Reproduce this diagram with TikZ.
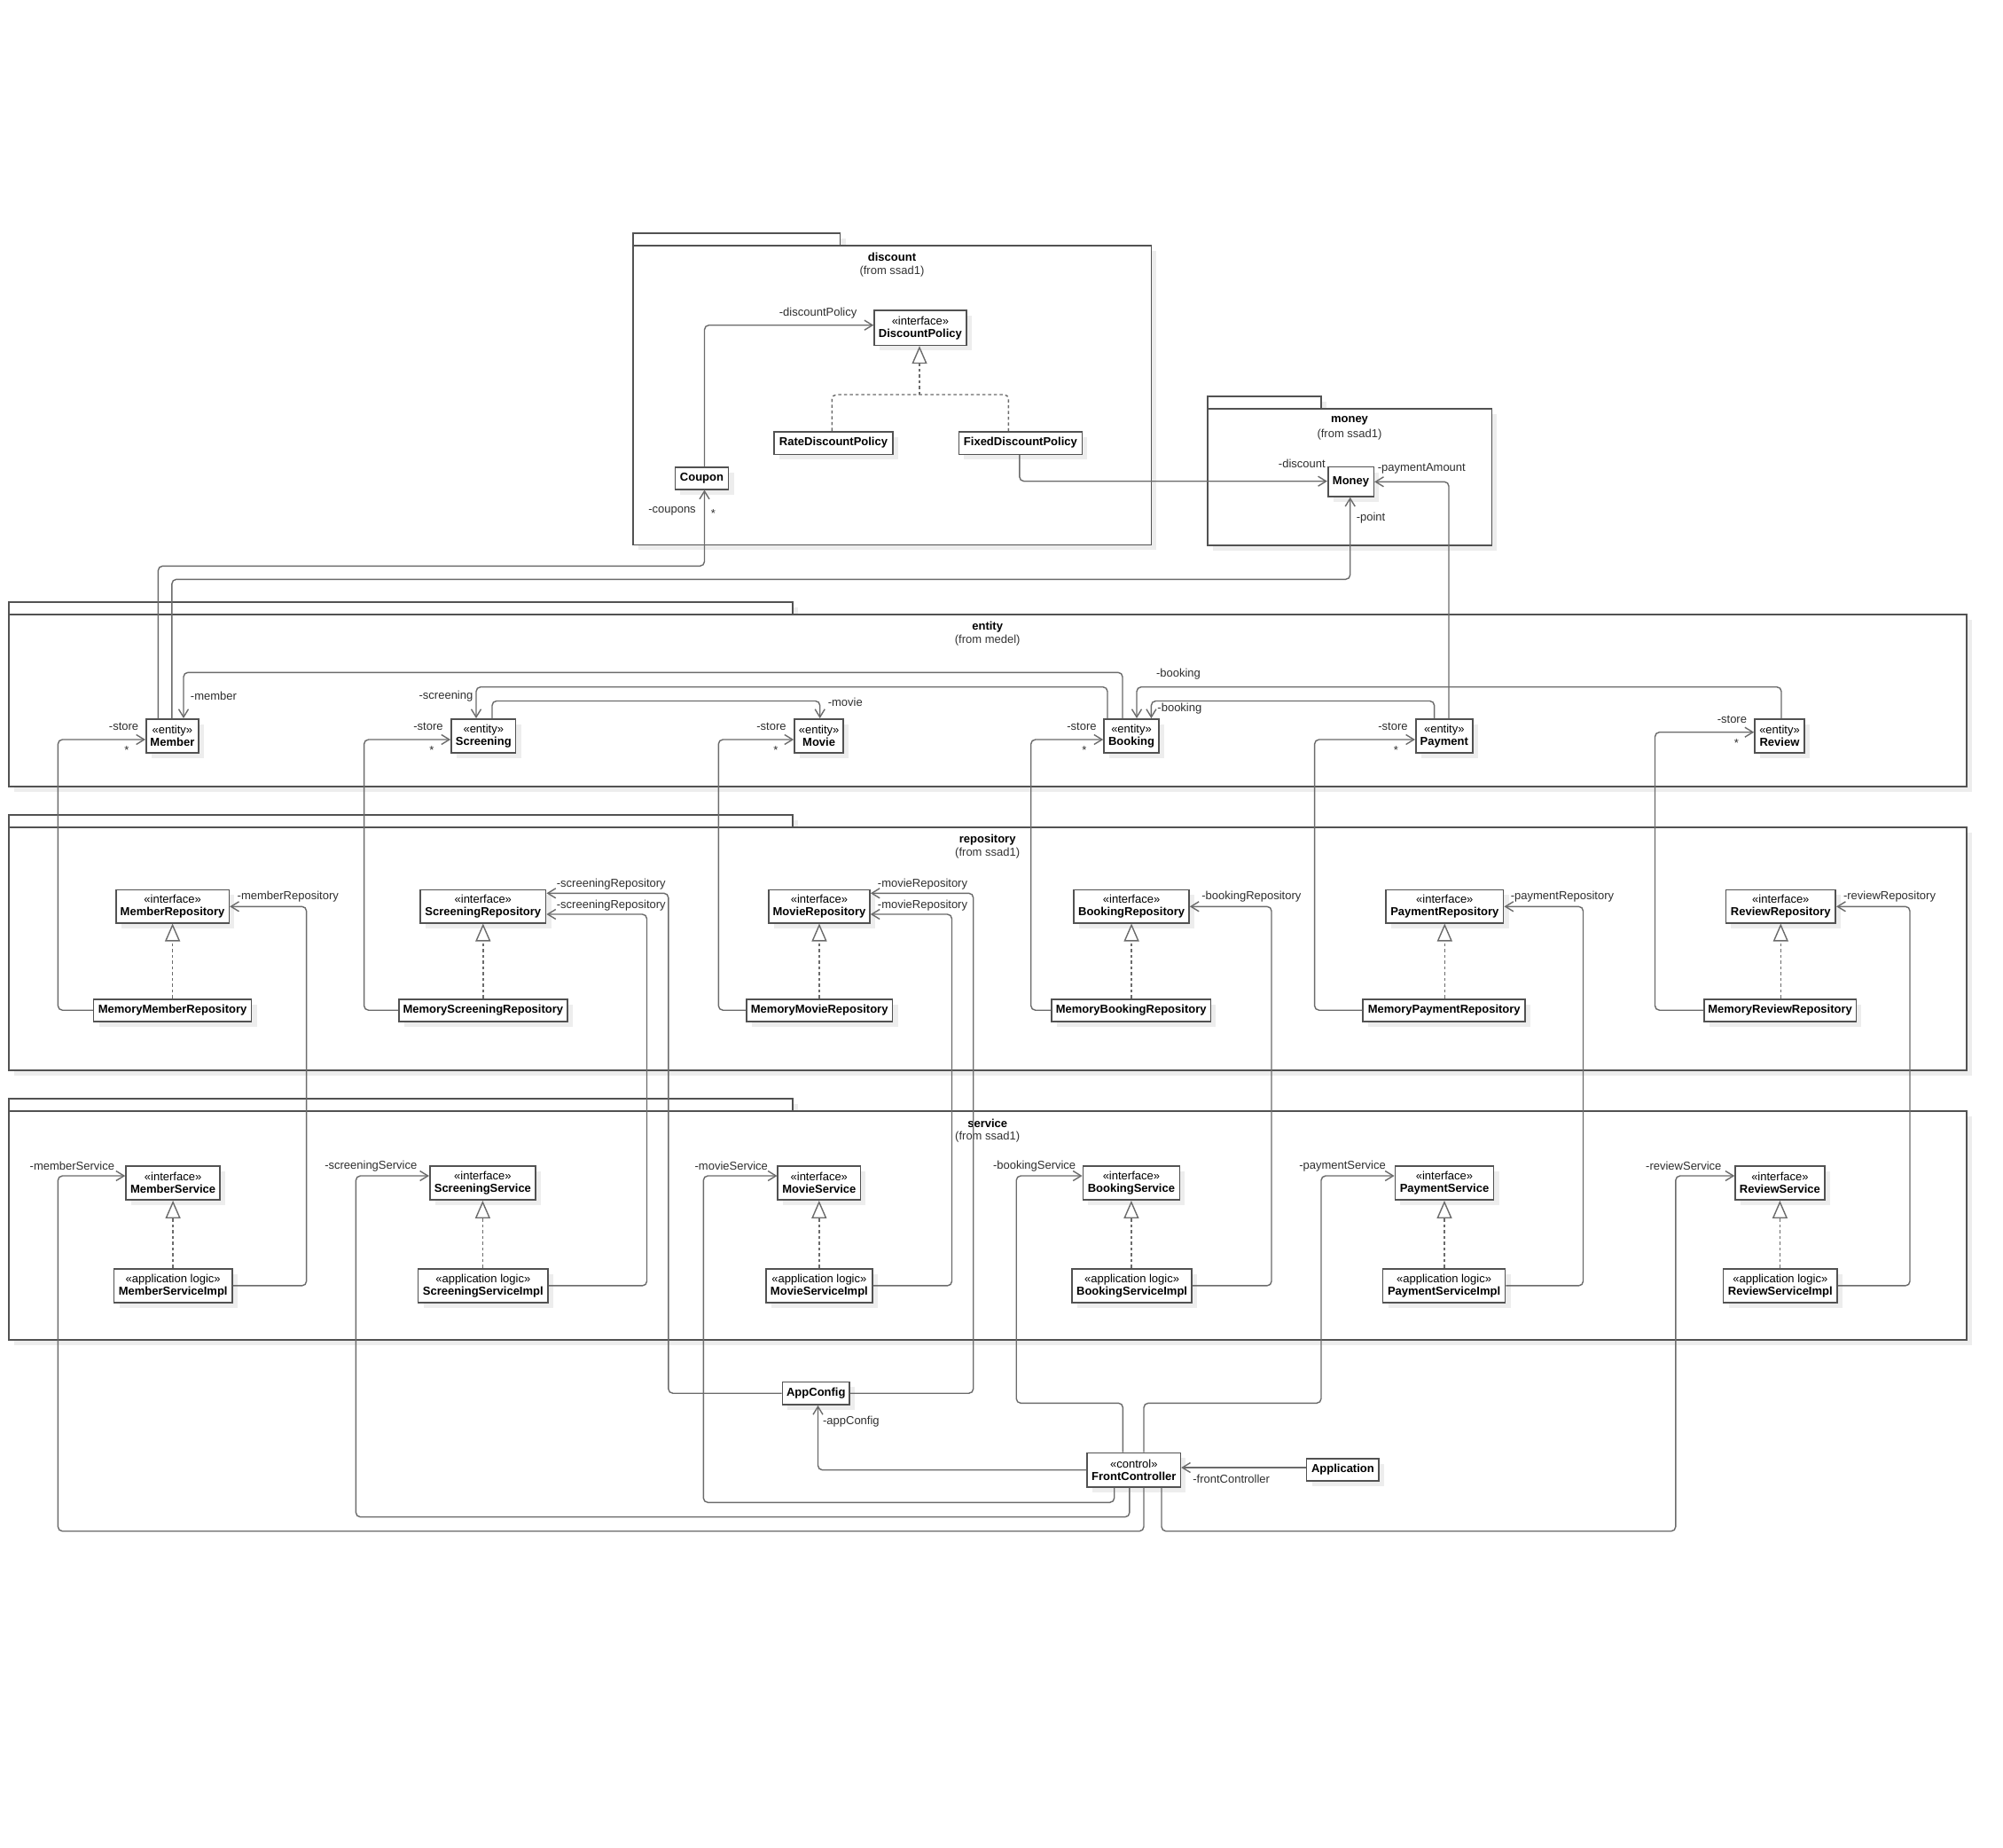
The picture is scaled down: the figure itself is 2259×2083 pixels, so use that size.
\documentclass[tikz,border=0pt]{standalone}
\usepackage{fontspec}
\setmainfont{Liberation Sans}
\usetikzlibrary{arrows.meta,shadows}

\tikzset{
  box shadow/.style={general shadow={fill=black!7, draw=none, shadow xshift=6pt, shadow yshift=-6pt}},
  umlclass/.style={draw=black!68, line width=1.6pt, fill=white, inner sep=0pt,
    align=center, font=\fontsize{13}{14}\selectfont, box shadow},
  pkgframe/.style={draw=black!68, line width=1.6pt, fill=white, box shadow},
  pkgname/.style={font=\fontsize{13}{15}\selectfont\bfseries, inner sep=0pt},
  pkgfrom/.style={font=\fontsize{13}{15}\selectfont, text=black!80, inner sep=0pt},
  assoc/.style={draw=black!58, line width=1.4pt, rounded corners=5pt,
    -{Straight Barb[length=9pt,width=11pt]}},
  realize/.style={draw=black!58, line width=1.4pt, rounded corners=5pt, dash pattern=on 3.5pt off 3pt},
  realtip/.style={realize, -{Triangle[length=20pt,width=17pt,fill=white]}},
  role/.style={font=\fontsize{13}{14}\selectfont, text=black!82, inner sep=0pt},
}

\begin{document}
\begin{tikzpicture}[x=1pt,y=-1pt]
\useasboundingbox (0,0) rectangle (2259,2083);

% ---------- packages ----------
\draw[pkgframe] (713.7,262.7) rectangle (947.5,276.7);
\draw[pkgframe] (713.7,276.7) rectangle (1298.3,614.3);
\node[pkgname] (discountName) at (1006,290) {discount};
\node[pkgfrom] (discountFrom) at (1006,306) {(from ssad1)};

\draw[pkgframe] (1361.7,446.7) rectangle (1490,460.7);
\draw[pkgframe] (1361.7,460.7) rectangle (1682.3,615);
\node[pkgname] (moneyName) at (1522,474) {money};
\node[pkgfrom] (moneyFrom) at (1522,490) {(from ssad1)};

\draw[pkgframe] (9.7,678.7) rectangle (893.7,692.7);
\draw[pkgframe] (9.7,692.7) rectangle (2217.7,886.7);
\node[pkgname] (entityName) at (1113.7,706.7) {entity};
\node[pkgfrom] (entityFrom) at (1113.7,722.3) {(from medel)};

\draw[pkgframe] (9.7,918.7) rectangle (893.7,932.7);
\draw[pkgframe] (9.7,932.7) rectangle (2217.7,1206.7);
\node[pkgname] (repoName) at (1113.7,946.7) {repository};
\node[pkgfrom] (repoFrom) at (1113.7,962.3) {(from ssad1)};

\draw[pkgframe] (9.7,1238.7) rectangle (893.7,1252.7);
\draw[pkgframe] (9.7,1252.7) rectangle (2217.7,1510.7);
\node[pkgname] (serviceName) at (1113.7,1266.7) {service};
\node[pkgfrom] (serviceFrom) at (1113.7,1282.3) {(from ssad1)};

% ---------- discount / money ----------
\node[umlclass, minimum width=103.7, minimum height=39.3] (DiscountPolicy) at (1037.9,369.7) {«interface»\\\textbf{DiscountPolicy}};
\node[umlclass, minimum width=133.5, minimum height=25.6] (RateDiscountPolicy) at (940,499.5) {\textbf{RateDiscountPolicy}};
\node[umlclass, minimum width=138.9, minimum height=25.6] (FixedDiscountPolicy) at (1150.9,499.5) {\textbf{FixedDiscountPolicy}};
\node[umlclass, minimum width=60.1, minimum height=25] (Coupon) at (791.5,539.2) {\textbf{Coupon}};
\node[umlclass, minimum width=51.6, minimum height=33.3] (Money) at (1523.5,543.3) {\textbf{Money}};

% ---------- entities ----------
\node[umlclass, minimum width=59.2, minimum height=38.3] (Member) at (194.4,830) {«entity»\\\textbf{Member}};
\node[umlclass, minimum width=72.7, minimum height=38.3] (Screening) at (545.3,830) {«entity»\\\textbf{Screening}};
\node[umlclass, minimum width=55.3, minimum height=38.3] (Movie) at (923.6,830) {«entity»\\\textbf{Movie}};
\node[umlclass, minimum width=62, minimum height=38.3] (Booking) at (1276,830) {«entity»\\\textbf{Booking}};
\node[umlclass, minimum width=64.1, minimum height=38.3] (Payment) at (1628.8,830) {«entity»\\\textbf{Payment}};
\node[umlclass, minimum width=56, minimum height=38.3] (Review) at (2007,830) {«entity»\\\textbf{Review}};

% ---------- repositories ----------
\node[umlclass, minimum width=127.5, minimum height=37.4] (MemberRepository) at (194.6,1022) {«interface»\\\textbf{MemberRepository}};
\node[umlclass, minimum width=141.6, minimum height=37.4] (ScreeningRepository) at (544.8,1022) {«interface»\\\textbf{ScreeningRepository}};
\node[umlclass, minimum width=114, minimum height=37.4] (MovieRepository) at (924,1022) {«interface»\\\textbf{MovieRepository}};
\node[umlclass, minimum width=129.8, minimum height=37.4] (BookingRepository) at (1276.1,1022) {«interface»\\\textbf{BookingRepository}};
\node[umlclass, minimum width=132.7, minimum height=37.4] (PaymentRepository) at (1629.3,1022) {«interface»\\\textbf{PaymentRepository}};
\node[umlclass, minimum width=123.9, minimum height=37.4] (ReviewRepository) at (2008.3,1022) {«interface»\\\textbf{ReviewRepository}};

\node[umlclass, minimum width=177.9, minimum height=25] (MemoryMemberRepository) at (194.6,1139.2) {\textbf{MemoryMemberRepository}};
\node[umlclass, minimum width=190, minimum height=25] (MemoryScreeningRepository) at (544.8,1139.2) {\textbf{MemoryScreeningRepository}};
\node[umlclass, minimum width=164.8, minimum height=25] (MemoryMovieRepository) at (924.2,1139.2) {\textbf{MemoryMovieRepository}};
\node[umlclass, minimum width=179.3, minimum height=25] (MemoryBookingRepository) at (1275.7,1139.2) {\textbf{MemoryBookingRepository}};
\node[umlclass, minimum width=183, minimum height=25] (MemoryPaymentRepository) at (1628.7,1139.2) {\textbf{MemoryPaymentRepository}};
\node[umlclass, minimum width=171.4, minimum height=25] (MemoryReviewRepository) at (2007.6,1139.2) {\textbf{MemoryReviewRepository}};

% ---------- services ----------
\node[umlclass, minimum width=106.2, minimum height=38.3] (MemberService) at (195.1,1334) {«interface»\\\textbf{MemberService}};
\node[umlclass, minimum width=119.3, minimum height=38.3] (ScreeningService) at (544.4,1334) {«interface»\\\textbf{ScreeningService}};
\node[umlclass, minimum width=93.1, minimum height=38.3] (MovieService) at (923.8,1334) {«interface»\\\textbf{MovieService}};
\node[umlclass, minimum width=109.1, minimum height=38.3] (BookingService) at (1275.9,1334) {«interface»\\\textbf{BookingService}};
\node[umlclass, minimum width=111.3, minimum height=38.3] (PaymentService) at (1629,1334) {«interface»\\\textbf{PaymentService}};
\node[umlclass, minimum width=100.7, minimum height=38.3] (ReviewService) at (2007.4,1334) {«interface»\\\textbf{ReviewService}};

\node[umlclass, minimum width=133.3, minimum height=38.3] (MemberServiceImpl) at (195.2,1449.9) {«application logic»\\\textbf{MemberServiceImpl}};
\node[umlclass, minimum width=146.4, minimum height=38.3] (ScreeningServiceImpl) at (544.8,1449.9) {«application logic»\\\textbf{ScreeningServiceImpl}};
\node[umlclass, minimum width=119.8, minimum height=38.3] (MovieServiceImpl) at (923.9,1449.9) {«application logic»\\\textbf{MovieServiceImpl}};
\node[umlclass, minimum width=134.8, minimum height=38.3] (BookingServiceImpl) at (1276.6,1449.9) {«application logic»\\\textbf{BookingServiceImpl}};
\node[umlclass, minimum width=138.1, minimum height=38.3] (PaymentServiceImpl) at (1628.6,1449.9) {«application logic»\\\textbf{PaymentServiceImpl}};
\node[umlclass, minimum width=128.5, minimum height=38.3] (ReviewServiceImpl) at (2007.8,1449.9) {«application logic»\\\textbf{ReviewServiceImpl}};

% ---------- application level ----------
\node[umlclass, minimum width=75.7, minimum height=25.7] (AppConfig) at (920.3,1571.2) {\textbf{AppConfig}};
\node[umlclass, minimum width=105.1, minimum height=38.4] (FrontController) at (1278.8,1657.5) {«control»\\\textbf{FrontController}};
\node[umlclass, minimum width=81.5, minimum height=25] (Application) at (1514.4,1657.5) {\textbf{Application}};

% ---------- realizations ----------
\draw[realize] (RateDiscountPolicy.north -| 938.4,0) -- (938.4,445) -- (1137.4,445) -- (FixedDiscountPolicy.north -| 1137.4,0);
\draw[realtip] (1037,445) -- (1037,0 |- DiscountPolicy.south);
\foreach \i/\r in {MemberRepository/MemoryMemberRepository, ScreeningRepository/MemoryScreeningRepository,
  MovieRepository/MemoryMovieRepository, BookingRepository/MemoryBookingRepository,
  PaymentRepository/MemoryPaymentRepository, ReviewRepository/MemoryReviewRepository,
  MemberService/MemberServiceImpl, ScreeningService/ScreeningServiceImpl,
  MovieService/MovieServiceImpl, BookingService/BookingServiceImpl,
  PaymentService/PaymentServiceImpl, ReviewService/ReviewServiceImpl}
  \draw[realtip] (\i.south |- \r.north) -- (\i.south);

% ---------- associations: discount / money ----------
\draw[assoc] (Coupon.north -| 794.5,0) -- (794.5,366.7) -- (DiscountPolicy.west |- 0,366.7);
\node[role] (lblDiscountPolicy) at (922.6,352.7) {-discountPolicy};
\draw[assoc] (FixedDiscountPolicy.south -| 1149.8,0) -- (1149.8,542.7) -- (Money.west |- 0,542.7);
\node[role] (lblDiscount) at (1468.3,523.3) {-discount};
\draw[assoc] (Payment.north -| 1634,0) -- (1634,543.3) -- (Money.east |- 0,543.3);
\node[role] (lblPaymentAmount) at (1603.3,528) {-paymentAmount};
\draw[assoc] (Member.north -| 193.9,0) -- (193.9,653.3) -- (1522.7,653.3) -- (Money.south -| 1522.7,0);
\node[role] (lblPoint) at (1546,584) {-point};
\draw[assoc] (Member.north -| 178.4,0) -- (178.4,638.3) -- (794.5,638.3) -- (Coupon.south -| 794.5,0);
\node[role] (lblCoupons) at (758,576.7) {-coupons};
\node[role] (lblCouponsMult) at (804.5,579) {*};

% ---------- associations between entities ----------
\draw[assoc] (Booking.north -| 1266,0) -- (1266,758.3) -- (207,758.3) -- (Member.north -| 207,0);
\node[role] (lblMember) at (241,785) {-member};
\draw[assoc] (Booking.north -| 1249,0) -- (1249,774.7) -- (537,774.7) -- (Screening.north -| 537,0);
\node[role] (lblScreening) at (503,785) {-screening};
\draw[assoc] (Screening.north -| 555,0) -- (555,790.5) -- (924.7,790.5) -- (Movie.north -| 924.7,0);
\node[role] (lblMovie) at (953.3,792) {-movie};
\draw[assoc] (Review.north -| 2009,0) -- (2009,774.7) -- (1282,774.7) -- (Booking.north -| 1282,0);
\node[role] (lblBookingA) at (1329,760) {-booking};
\draw[assoc] (Payment.north -| 1617.6,0) -- (1617.6,790.5) -- (1298.4,790.5) -- (Booking.north -| 1298.4,0);
\node[role] (lblBookingB) at (1330.4,799.3) {-booking};

% ---------- store associations ----------
\draw[assoc] (MemoryMemberRepository.west) -- (65.4,1139.2) -- (65.4,834) -- (Member.west |- 0,834);
\node[role] (lblStoreMember) at (139.6,819) {-store};
\node[role] (mulStoreMember) at (143,846) {*};
\draw[assoc] (MemoryScreeningRepository.west) -- (410.6,1139.2) -- (410.6,834) -- (Screening.west |- 0,834);
\node[role] (lblStoreScreening) at (483,819) {-store};
\node[role] (mulStoreScreening) at (487,846) {*};
\draw[assoc] (MemoryMovieRepository.west) -- (810.3,1139.2) -- (810.3,834) -- (Movie.west |- 0,834);
\node[role] (lblStoreMovie) at (870,819) {-store};
\node[role] (mulStoreMovie) at (874.8,846) {*};
\draw[assoc] (MemoryBookingRepository.west) -- (1162.7,1139.2) -- (1162.7,834) -- (Booking.west |- 0,834);
\node[role] (lblStoreBooking) at (1220,819) {-store};
\node[role] (mulStoreBooking) at (1223,846) {*};
\draw[assoc] (MemoryPaymentRepository.west) -- (1482.6,1139.2) -- (1482.6,834) -- (Payment.west |- 0,834);
\node[role] (lblStorePayment) at (1571,819) {-store};
\node[role] (mulStorePayment) at (1574.4,846) {*};
\draw[assoc] (MemoryReviewRepository.west) -- (1866.5,1139.2) -- (1866.5,825.7) -- (Review.west |- 0,825.7);
\node[role] (lblStoreReview) at (1953.4,811) {-store};
\node[role] (mulStoreReview) at (1958.4,838) {*};

% ---------- service implementations to repositories ----------
\draw[assoc] (MemberServiceImpl.east) -- (345.6,1449.9) -- (345.6,1022.3) -- (MemberRepository.east |- 0,1022.3);
\node[role] (lblMemberRepo) at (324.8,1011) {-memberRepository};
\draw[assoc] (ScreeningServiceImpl.east) -- (729.5,1449.9) -- (729.5,1031) -- (ScreeningRepository.east |- 0,1031);
\node[role] (lblScreeningRepoB) at (689.3,1020.7) {-screeningRepository};
\draw[assoc] (MovieServiceImpl.east) -- (1073.5,1449.9) -- (1073.5,1031) -- (MovieRepository.east |- 0,1031);
\node[role] (lblMovieRepoB) at (1040.5,1020.7) {-movieRepository};
\draw[assoc] (BookingServiceImpl.east) -- (1434,1449.9) -- (1434,1022.3) -- (BookingRepository.east |- 0,1022.3);
\node[role] (lblBookingRepo) at (1411.4,1011) {-bookingRepository};
\draw[assoc] (PaymentServiceImpl.east) -- (1785.5,1449.9) -- (1785.5,1022.3) -- (PaymentRepository.east |- 0,1022.3);
\node[role] (lblPaymentRepo) at (1762,1011) {-paymentRepository};
\draw[assoc] (ReviewServiceImpl.east) -- (2154,1449.9) -- (2154,1022.3) -- (ReviewRepository.east |- 0,1022.3);
\node[role] (lblReviewRepo) at (2131,1011) {-reviewRepository};

% ---------- configuration ----------
\draw[assoc] (AppConfig.west) -- (753.8,1571.2) -- (753.8,1007.3) -- (ScreeningRepository.east |- 0,1007.3);
\node[role] (lblScreeningRepoA) at (689.3,996.7) {-screeningRepository};
\draw[assoc] (AppConfig.east) -- (1097.7,1571.2) -- (1097.7,1007.3) -- (MovieRepository.east |- 0,1007.3);
\node[role] (lblMovieRepoA) at (1040.5,996.7) {-movieRepository};

% ---------- front controller ----------
\draw[assoc] (FrontController.south -| 1290,0) -- (1290,1726.7) -- (65.4,1726.7) -- (65.4,1326) -- (MemberService.west |- 0,1326);
\node[role] (lblMemberService) at (81.4,1315) {-memberService};
\draw[assoc] (FrontController.south -| 1273.9,0) -- (1273.9,1710.7) -- (401.4,1710.7) -- (401.4,1326) -- (ScreeningService.west |- 0,1326);
\node[role] (lblScreeningService) at (418.3,1315) {-screeningService};
\draw[assoc] (FrontController.south -| 1256.7,0) -- (1256.7,1694.3) -- (793.3,1694.3) -- (793.3,1326) -- (MovieService.west |- 0,1326);
\node[role] (lblMovieService) at (824.8,1315) {-movieService};
\draw[assoc] (FrontController.north -| 1266.4,0) -- (1266.4,1582.3) -- (1146.2,1582.3) -- (1146.2,1326) -- (BookingService.west |- 0,1326);
\node[role] (lblBookingService) at (1166.6,1315) {-bookingService};
\draw[assoc] (FrontController.north -| 1290,0) -- (1290,1582.3) -- (1490,1582.3) -- (1490,1326) -- (PaymentService.west |- 0,1326);
\node[role] (lblPaymentService) at (1514,1315) {-paymentService};
\draw[assoc] (FrontController.south -| 1310,0) -- (1310,1726.7) -- (1889.8,1726.7) -- (1889.8,1326) -- (ReviewService.west |- 0,1326);
\node[role] (lblReviewService) at (1898.8,1315) {-reviewService};
\draw[assoc] (FrontController.west |- 0,1657.7) -- (922.5,1657.7) -- (AppConfig.south -| 922.5,0);
\node[role] (lblAppConfig) at (959.9,1603.3) {-appConfig};
\draw[assoc] (Application.west |- 0,1655) -- (FrontController.east |- 0,1655);
\node[role] (lblFrontController) at (1388.7,1667.7) {-frontController};

\end{tikzpicture}
\end{document}
